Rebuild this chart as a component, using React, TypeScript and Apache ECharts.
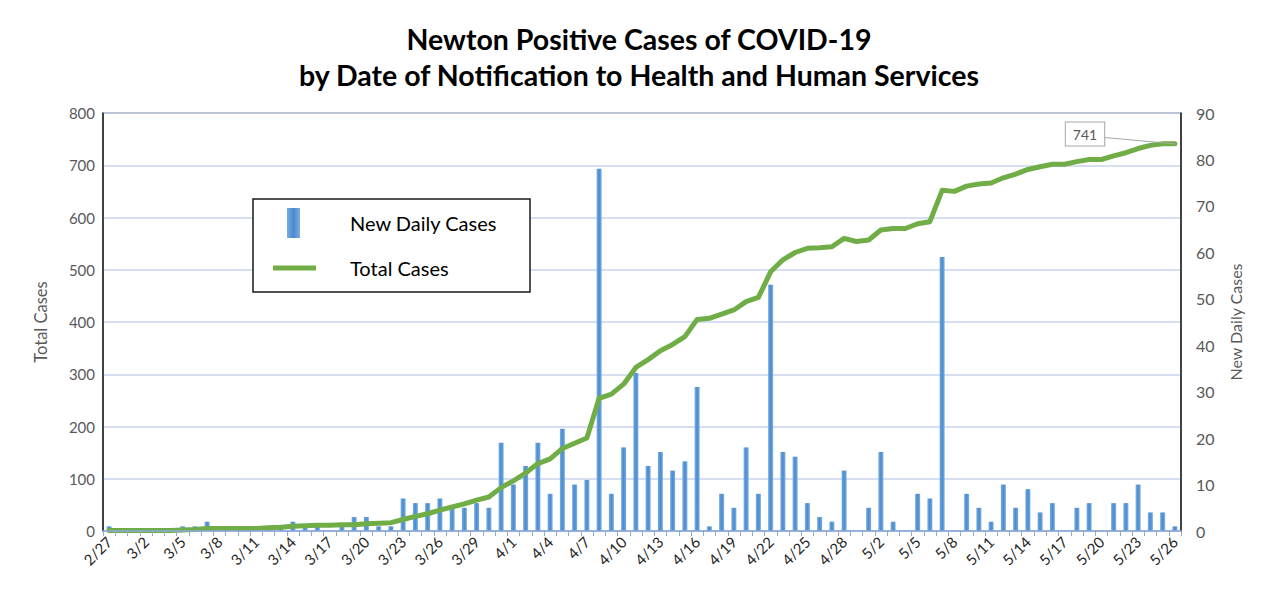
import React, { useEffect, useRef } from "react";
import * as echarts from "echarts";

const categories = [
  "2/27","2/28","3/1","3/2","3/3","3/4","3/5","3/6","3/7","3/8","3/9","3/10","3/11","3/12","3/13","3/14",
  "3/15","3/16","3/17","3/18","3/19","3/20","3/21","3/22","3/23","3/24","3/25","3/26","3/27","3/28","3/29",
  "3/30","3/31","4/1","4/2","4/3","4/4","4/5","4/6","4/7","4/8","4/9","4/10","4/11","4/12","4/13","4/14",
  "4/15","4/16","4/17","4/18","4/19","4/20","4/21","4/22","4/23","4/24","4/25","4/26","4/27","4/28","4/29",
  "4/30","5/2","5/3","5/4","5/5","5/6","5/7","5/8","5/9","5/10","5/11","5/12","5/13","5/14","5/15","5/16",
  "5/17","5/18","5/19","5/20","5/21","5/22","5/23","5/24","5/25","5/26"
];

const newDailyCases = [
  1, 0, 0, 0, 0, 0, 1, 1, 2, 0, 0, 0, 0, 1, 1, 2, 1, 1, 0, 1, 3, 3, 1, 1, 7, 6, 6, 7, 5, 5, 6,
  5, 19, 10, 14, 19, 8, 22, 10, 11, 78, 8, 18, 34, 14, 17, 13, 15, 31, 1, 8, 5, 18, 8, 53, 17, 16, 6, 3, 2, 13,
  0, 5, 17, 2, 0, 8, 7, 59, 0, 8, 5, 2, 10, 5, 9, 4, 6, 0, 5, 6, 0, 6, 6, 10, 4, 4, 1
];

const totalCases = [
  1, 1, 1, 1, 1, 1, 2, 3, 5, 5, 5, 5, 5, 6, 7, 9, 10, 11, 11, 12, 12, 14, 15, 16, 22, 28, 33, 40, 46, 52, 59,
  65, 83, 96, 111, 129, 138, 158, 168, 178, 254, 262, 281, 313, 328, 345, 357, 372, 405, 407, 415, 423, 439, 447, 496, 519, 533, 541, 542, 544, 560,
  554, 557, 576, 579, 579, 588, 592, 652, 650, 660, 664, 666, 676, 683, 692, 697, 702, 702, 707, 711, 711, 718, 724, 732, 738, 741, 741
];

const leftTicks = { min: 0, max: 800, interval: 100 };
const rightTicks = { min: 0, max: 90, interval: 10 };

const FONT = "Lato, 'Open Sans', sans-serif";

export default function App() {
  const ref = useRef<HTMLDivElement>(null);

  useEffect(() => {
    document.body.style.margin = "0";
    if (!ref.current) return;
    const chart = echarts.init(ref.current, undefined, { renderer: "svg" });
    const last = totalCases.length - 1;
    const lineData = totalCases.map((v, i) =>
      i === last
        ? {
            value: v,
            label: {
              show: true,
              formatter: "{c}",
              fontSize: 14,
              fontFamily: FONT,
              color: "#595959",
              backgroundColor: "#ffffff",
              borderColor: "#a6a6a6",
              borderWidth: 1,
              padding: [5, 7, 4, 7],
            },
            labelLine: { show: true, lineStyle: { color: "#a6a6a6", width: 1 } },
          }
        : v
    );

    chart.setOption({
      animation: false,
      backgroundColor: "#ffffff",
      textStyle: { fontFamily: FONT },
      title: {
        text: "Newton Positive Cases of COVID-19\nby Date of Notification to Health and Human Services",
        left: "center",
        top: 16,
        textStyle: {
          fontFamily: FONT,
          fontSize: 28.5,
          fontWeight: "bold",
          color: "#000000",
          lineHeight: 36,
        },
      },
      legend: [
        {
          data: [{ name: "New Daily Cases", icon: "rect" }],
          left: 287,
          top: 208,
          padding: 0,
          itemWidth: 13,
          itemHeight: 30,
          selectedMode: false,
          textStyle: { fontSize: 20, color: "#000000", fontFamily: FONT, padding: [0, 0, 0, 45] },
        },
        {
          data: [{ name: "Total Cases", icon: "rect" }],
          left: 273,
          top: 258,
          padding: 0,
          itemWidth: 43,
          itemHeight: 5,
          selectedMode: false,
          textStyle: { fontSize: 20, color: "#000000", fontFamily: FONT, padding: [0, 0, 0, 29] },
        },
      ],
      graphic: [
        {
          type: "rect",
          shape: { x: 253, y: 199, width: 277, height: 93 },
          style: { fill: "#ffffff", stroke: "#1a1a1a", lineWidth: 1.5 },
          z: 1,
        },
      ],
      grid: {
        left: 103,
        top: 113,
        width: 1078,
        height: 418,
        show: true,
        borderColor: "#262626",
        borderWidth: 1,
      },
      xAxis: {
        type: "category",
        data: categories,
        boundaryGap: true,
        z: 5,
        axisLine: { show: true, lineStyle: { color: "#8eaadb", width: 1.5 } },
        axisTick: { show: true, interval: 0, length: 5, lineStyle: { color: "#8eaadb" } },
        axisLabel: {
          interval: 2,
          rotate: 45,
          fontSize: 15,
          color: "#262626",
          fontFamily: FONT,
          margin: 8,
        },
        splitLine: { show: false },
      },
      yAxis: [
        {
          type: "value",
          ...leftTicks,
          name: "Total Cases",
          nameLocation: "middle",
          nameRotate: 90,
          nameGap: 54,
          nameTextStyle: { fontSize: 16.5, color: "#595959", fontFamily: FONT },
          axisLine: { show: true, lineStyle: { color: "#262626", width: 1.5 } },
          axisTick: { show: false },
          axisLabel: { fontSize: 15, color: "#595959", margin: 8, fontFamily: FONT },
          splitLine: { show: true, lineStyle: { color: "#c9d5ee", width: 1.5 } },
        },
        {
          type: "value",
          ...rightTicks,
          position: "right",
          name: "New Daily Cases",
          nameLocation: "middle",
          nameRotate: 90,
          nameGap: 46,
          nameTextStyle: { fontSize: 16, color: "#595959", fontFamily: FONT },
          axisLine: { show: true, lineStyle: { color: "#262626", width: 1.5 } },
          axisTick: { show: false },
          axisLabel: { fontSize: 16, color: "#595959", margin: 15, fontFamily: FONT },
          splitLine: { show: false },
        },
      ],
      series: [
        {
          name: "New Daily Cases",
          type: "bar",
          yAxisIndex: 1,
          data: newDailyCases,
          barWidth: 5,
          itemStyle: {
            color: new echarts.graphic.LinearGradient(0, 0, 1, 0, [
              { offset: 0, color: "#7aaee0" },
              { offset: 0.5, color: "#4a8ad0" },
              { offset: 1, color: "#7aaee0" },
            ]),
          },
          z: 2,
        },
        {
          name: "Total Cases",
          type: "line",
          yAxisIndex: 0,
          data: lineData,
          showSymbol: true,
          showAllSymbol: true,
          symbol: "circle",
          symbolSize: 0,
          lineStyle: { color: "#70ad47", width: 5, join: "round", cap: "round" },
          itemStyle: { color: "#70ad47" },
          labelLayout: { x: 1085, y: 134, align: "center", verticalAlign: "middle" },
          z: 3,
        },
      ],
    });
    return () => chart.dispose();
  }, []);

  return <div ref={ref} style={{ width: 1278, height: 616 }} />;
}
